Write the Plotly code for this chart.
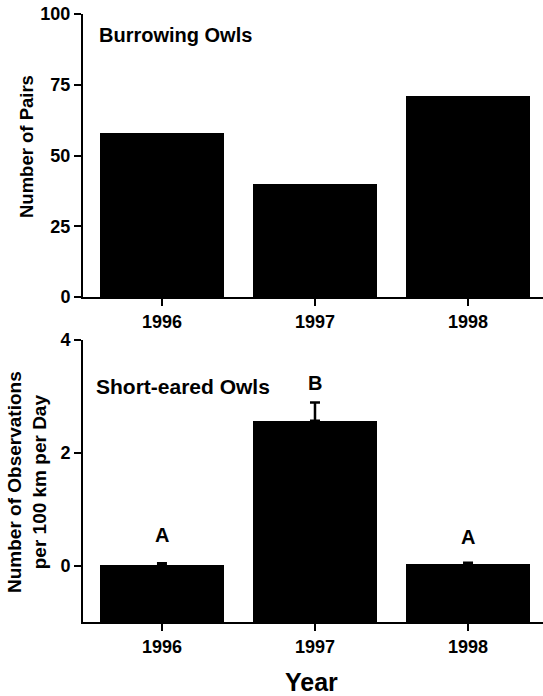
import plotly.graph_objects as go

# ---- data ----
years = ["1996", "1997", "1998"]
burrowing_pairs = [58, 40, 71]
shorteared_obs = [0.01, 2.57, 0.02]
shorteared_err = [0.03, 0.32, 0.03]
sig_letters = ["A", "B", "A"]
top_ticks = [0, 25, 50, 75, 100]
bottom_ticks = [0, 2, 4]

FONT = "Arial, Liberation Sans, sans-serif"
W, H = 543, 696
xpos = list(range(len(years)))

fig = go.Figure()

fig.add_trace(go.Bar(
    x=xpos, y=burrowing_pairs, width=0.81,
    marker=dict(color="black", line=dict(width=0)),
    xaxis="x", yaxis="y", showlegend=False, hoverinfo="skip",
))

base_val = -1
fig.add_trace(go.Bar(
    x=xpos, y=[v - base_val for v in shorteared_obs], base=base_val, width=0.81,
    marker=dict(color="black", line=dict(width=0)),
    xaxis="x2", yaxis="y2", showlegend=False, hoverinfo="skip",
))
fig.add_trace(go.Scatter(
    x=xpos, y=shorteared_obs, mode="markers",
    marker=dict(size=0.1, color="black", opacity=0),
    error_y=dict(type="data", array=shorteared_err, arrayminus=[0] * 3,
                 symmetric=False, color="black", thickness=2.5, width=5),
    xaxis="x2", yaxis="y2", showlegend=False, hoverinfo="skip",
))

xdom = [83 / W, 1.0]
top_dom = [(H - 297) / H, (H - 14) / H]
bot_dom = [(H - 622) / H, (H - 340) / H]
xrange = [-0.516, 2.49]

tickfont = dict(family=FONT, size=18, color="black", weight="bold")

common_x = dict(
    range=xrange, tickmode="array", tickvals=xpos, ticktext=years,
    showline=True, linecolor="black", linewidth=2,
    ticks="outside", ticklen=7, tickwidth=2, tickcolor="black",
    showgrid=False, zeroline=False, tickfont=tickfont, fixedrange=True,
    automargin=False,
)
common_y = dict(
    showline=True, linecolor="black", linewidth=2,
    ticks="outside", ticklen=7, tickwidth=1.5, tickcolor="black",
    showgrid=False, zeroline=False, tickfont=tickfont, fixedrange=True,
    automargin=False,
)

fig.update_layout(
    width=W, height=H, autosize=False,
    margin=dict(l=0, r=0, t=0, b=0, pad=0, autoexpand=False),
    paper_bgcolor="white", plot_bgcolor="white",
    bargap=0,
    xaxis=dict(domain=xdom, anchor="y", **common_x),
    yaxis=dict(domain=top_dom, anchor="x", range=[0, 100],
               tickmode="array", tickvals=top_ticks, **common_y),
    xaxis2=dict(domain=xdom, anchor="y2", **common_x),
    yaxis2=dict(domain=bot_dom, anchor="x2", range=[-1, 4],
                tickmode="array", tickvals=bottom_ticks, **common_y),
)

def bold(size):
    return dict(family=FONT, size=size, color="black", weight="bold")

annos = [
    dict(text="Burrowing Owls", x=-0.425, y=92.6, xref="x", yref="y",
         xanchor="left", yanchor="middle", font=bold(20), showarrow=False),
    dict(text="Short-eared Owls", x=-0.445, y=3.17, xref="x2", yref="y2",
         xanchor="left", yanchor="middle", font=bold(21), showarrow=False),
    dict(text="Number of Pairs", x=27 / W, y=(H - 147) / H, xref="paper", yref="paper",
         textangle=-90, xanchor="center", yanchor="middle",
         font=bold(18.5), showarrow=False),
    dict(text="Number of Observations<br>per 100 km per Day", x=27 / W, y=(H - 482) / H,
         xref="paper", yref="paper", textangle=-90, xanchor="center", yanchor="middle",
         font=bold(19), showarrow=False),
    dict(text="Year", x=311 / W, y=(H - 682) / H, xref="paper", yref="paper",
         xanchor="center", yanchor="middle", font=bold(25), showarrow=False),
]
letter_y = [0.55, 3.24, 0.5]
for xi, lt, ly in zip(xpos, sig_letters, letter_y):
    annos.append(dict(text=lt, x=xi, y=ly, xref="x2", yref="y2",
                      xanchor="center", yanchor="middle", font=bold(20), showarrow=False))
fig.update_layout(annotations=annos)

fig.write_html("out.html", config={"displayModeBar": False},
               post_script="document.body.style.margin='0px';document.body.style.overflow='hidden';")
